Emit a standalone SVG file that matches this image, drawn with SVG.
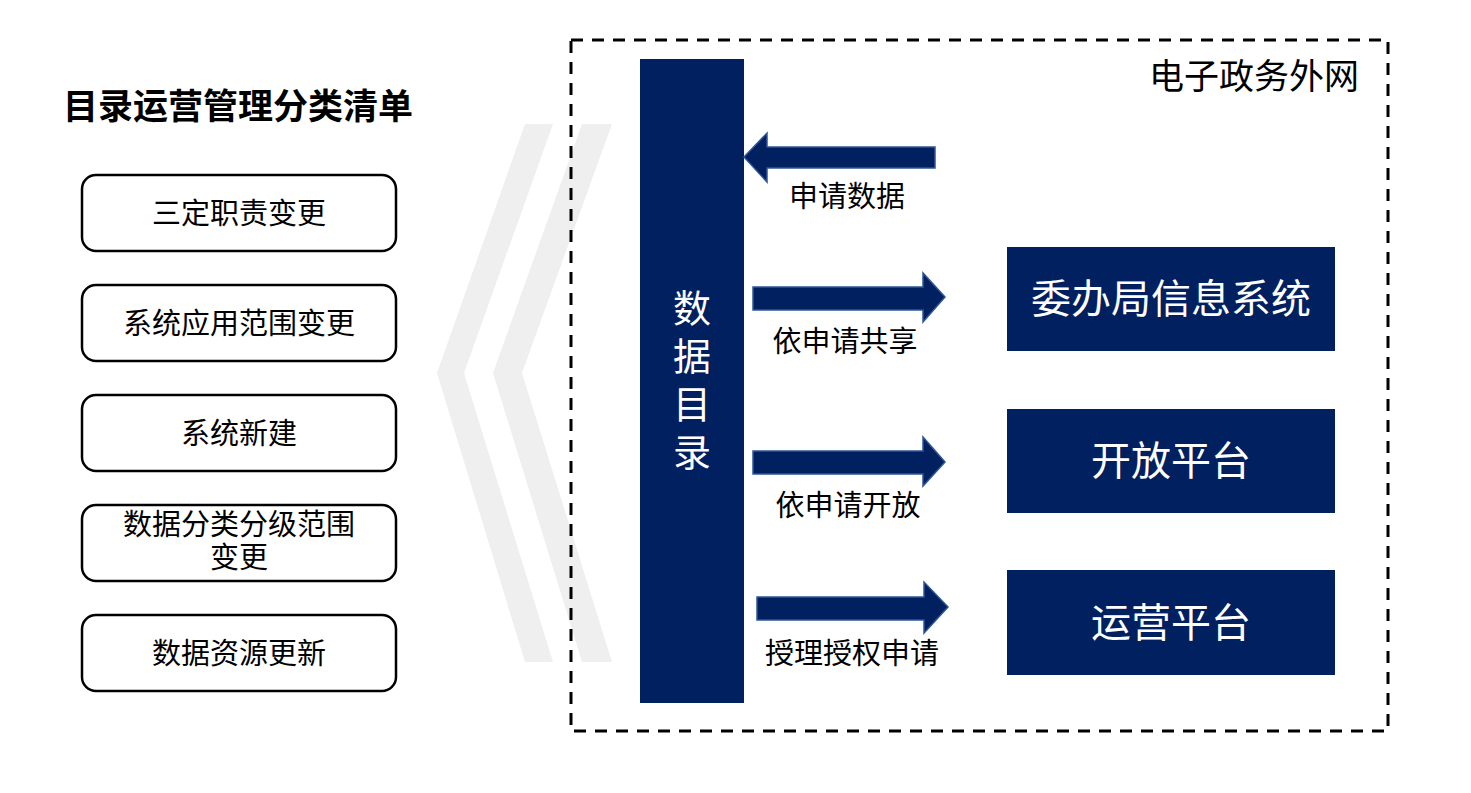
<svg xmlns="http://www.w3.org/2000/svg" width="1471" height="793" viewBox="0 0 1471 793">
<style>
text{font-family:"Noto Sans CJK SC","Microsoft YaHei",sans-serif;}
.lbl{font-size:29px;fill:#000;text-anchor:middle;}
.box{fill:#fff;stroke:#000;stroke-width:2.5;}
.navy{fill:#002060;}
.arrow{fill:#002060;stroke:#2F5597;stroke-width:1.5;}
.wt{fill:#fff;text-anchor:middle;}
</style>
<rect width="1471" height="793" fill="#fff"/>
<g id="chevrons" fill="#efefef">
<polygon points="525,124 553,124 464,373 553,662 525,662 437,373"/>
<polygon points="582,124 612,124 522,373 612,662 582,662 493,373"/>
</g>
<g id="title"><text x="238" y="119" font-size="35" font-weight="bold" text-anchor="middle">目录运营管理分类清单</text></g>
<g id="item1"><rect class="box" x="82" y="175" width="314" height="76" rx="14"/><text class="lbl" x="239" y="224">三定职责变更</text></g>
<g id="item2"><rect class="box" x="82" y="285" width="314" height="76" rx="14"/><text class="lbl" x="239" y="334">系统应用范围变更</text></g>
<g id="item3"><rect class="box" x="82" y="395" width="314" height="76" rx="14"/><text class="lbl" x="239" y="444">系统新建</text></g>
<g id="item4"><rect class="box" x="82" y="505" width="314" height="76" rx="14"/><text class="lbl" x="239" y="535"><tspan x="239">数据分类分级范围</tspan><tspan x="239" dy="33">变更</tspan></text></g>
<g id="item5"><rect class="box" x="82" y="615" width="314" height="76" rx="14"/><text class="lbl" x="239" y="664">数据资源更新</text></g>
<g id="network"><rect x="571" y="40" width="817" height="691" fill="none" stroke="#000" stroke-width="3" stroke-dasharray="12 9"/><text x="1359" y="89" font-size="35" text-anchor="end">电子政务外网</text></g>
<g id="catalog"><rect class="navy" x="640" y="59" width="104" height="644"/>
<text class="wt" font-size="38" x="692" y="322"><tspan x="692">数</tspan><tspan x="692" dy="48">据</tspan><tspan x="692" dy="48">目</tspan><tspan x="692" dy="48">录</tspan></text></g>
<g id="sys1"><rect class="navy" x="1007" y="247" width="328" height="104"/><text class="wt" font-size="40" x="1171" y="313">委办局信息系统</text></g>
<g id="sys2"><rect class="navy" x="1007" y="409" width="328" height="104"/><text class="wt" font-size="40" x="1171" y="475">开放平台</text></g>
<g id="sys3"><rect class="navy" x="1007" y="570" width="328" height="105"/><text class="wt" font-size="40" x="1171" y="637">运营平台</text></g>
<g id="connectors">
<polygon class="arrow" points="935,147 767,147 767,133 744,157 767,182 767,168 935,168"/>
<polygon class="arrow" points="753,287 923,287 923,273 945,297 923,322 923,310 753,310"/>
<polygon class="arrow" points="753,451 923,451 923,437 945,462 923,486 923,474 753,474"/>
<polygon class="arrow" points="757,597 924,597 924,582 948,607 924,633 924,620 757,620"/>
<text class="lbl" x="847" y="207">申请数据</text>
<text class="lbl" x="845" y="352">依申请共享</text>
<text class="lbl" x="848" y="516">依申请开放</text>
<text class="lbl" x="852" y="664">授理授权申请</text>
</g>
</svg>
